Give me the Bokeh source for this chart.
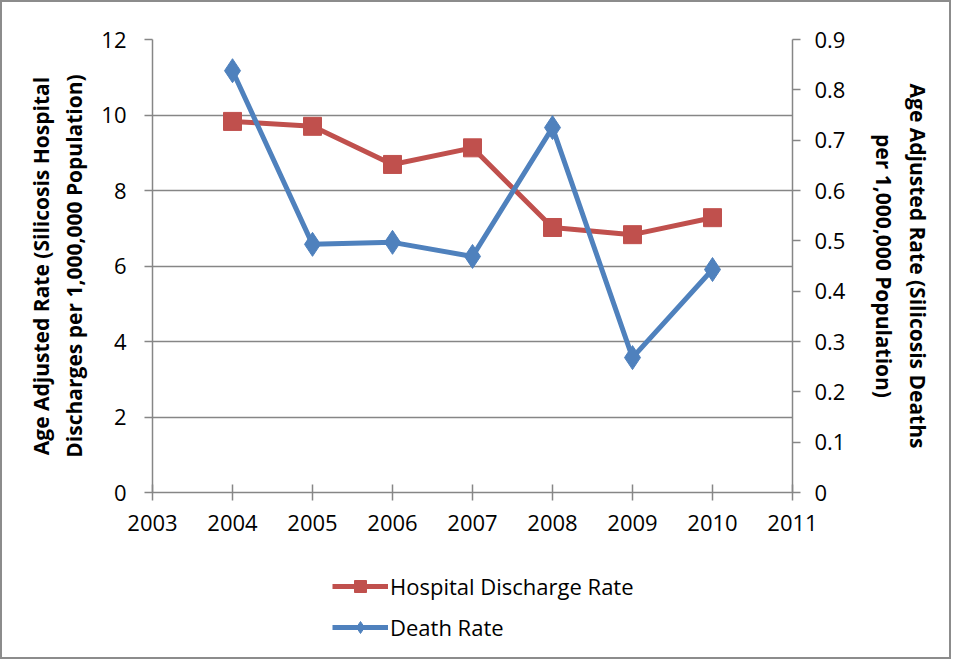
from bokeh.plotting import figure
from bokeh.layouts import column
from bokeh.models import Range1d, LinearAxis, FixedTicker, Legend, LegendItem
from bokeh.embed import file_html
from bokeh.resources import INLINE

years = [2004, 2005, 2006, 2007, 2008, 2009, 2010]
hospital_rate = [9.83, 9.70, 8.69, 9.13, 7.02, 6.83, 7.28]
death_rate = [0.838, 0.493, 0.497, 0.469, 0.725, 0.268, 0.443]
x_ticks = [2003, 2004, 2005, 2006, 2007, 2008, 2009, 2010, 2011]
left_ticks = [0, 2, 4, 6, 8, 10, 12]
right_ticks = [0, 0.1, 0.2, 0.3, 0.4, 0.5, 0.6, 0.7, 0.8, 0.9]
left_title = "Age Adjusted Rate (Silicosis Hospital\nDischarges per 1,000,000 Population)"
right_title = "Age Adjusted Rate (Silicosis Deaths\nper 1,000,000 Population)"
series_names = ["Hospital Discharge Rate", "Death Rate"]

RED = "#C0504D"
BLUE = "#4F81BD"
GRAY = "#868686"
BORDER = "2px solid #8c8c8c"
FONT = "Open Sans"

p = figure(width=951, height=540, output_backend="svg", toolbar_location=None,
           x_range=Range1d(2003, 2011), y_range=Range1d(0, 12),
           min_border_left=150, min_border_top=37, min_border_right=161,
           min_border_bottom=50)
p.extra_y_ranges = {"right": Range1d(0, 0.9)}
p.outline_line_color = None
p.xgrid.grid_line_color = None
p.ygrid.grid_line_color = GRAY
p.ygrid.grid_line_width = 1.5
p.styles = {"border-top": BORDER, "border-left": BORDER, "border-right": BORDER}

def style_axis(ax):
    ax.axis_line_color = GRAY
    ax.axis_line_width = 1.5
    ax.major_tick_line_color = GRAY
    ax.major_tick_line_width = 1.5
    ax.minor_tick_line_color = None
    ax.major_label_text_font = FONT
    ax.major_label_text_font_size = "22px"
    ax.major_label_text_color = "black"
    ax.axis_label_text_font = FONT
    ax.axis_label_text_font_size = "21px"
    ax.axis_label_text_font_style = "bold"
    ax.axis_label_text_color = "black"

xa = p.xaxis[0]
style_axis(xa)
xa.ticker = FixedTicker(ticks=x_ticks)
xa.major_tick_in = 8
xa.major_tick_out = 8
xa.major_label_standoff = 14

ya = p.yaxis[0]
style_axis(ya)
ya.ticker = FixedTicker(ticks=left_ticks)
ya.major_tick_in = 0
ya.major_tick_out = 8
ya.major_label_standoff = 18
ya.axis_label = left_title
ya.axis_label_standoff = 10

ra = LinearAxis(y_range_name="right")
style_axis(ra)
ra.ticker = FixedTicker(ticks=right_ticks)
ra.major_label_overrides = {0: "0"}
ra.major_tick_in = 0
ra.major_tick_out = 8
ra.major_label_standoff = 14
ra.axis_label = right_title
ra.axis_label_standoff = 22
p.add_layout(ra, "right")

p.line(years, hospital_rate, line_color=RED, line_width=5)
p.scatter(years, hospital_rate, marker="square", size=18, fill_color=RED, line_color=RED)
p.line(years, death_rate, line_color=BLUE, line_width=5, y_range_name="right")
p.scatter(years, death_rate, marker="diamond", size=24, fill_color=BLUE, line_color=BLUE,
          y_range_name="right")

# legend panel below the chart (its series lie outside this panel's ranges)
q = figure(width=951, height=119, output_backend="svg", toolbar_location=None,
           x_range=Range1d(0, 1), y_range=Range1d(0, 1),
           min_border_left=0, min_border_right=0, min_border_top=0, min_border_bottom=0)
q.axis.visible = False
q.grid.grid_line_color = None
q.outline_line_color = None
q.styles = {"border-bottom": BORDER, "border-left": BORDER, "border-right": BORDER}
k1 = q.line(years, hospital_rate, line_color=RED, line_width=5)
k2 = q.scatter(years, hospital_rate, marker="square", size=18, fill_color=RED, line_color=RED)
k3 = q.line(years, death_rate, line_color=BLUE, line_width=5)
k4 = q.scatter(years, death_rate, marker="diamond", size=24, fill_color=BLUE, line_color=BLUE)
legend = Legend(items=[LegendItem(label=series_names[0], renderers=[k1, k2]),
                       LegendItem(label=series_names[1], renderers=[k3, k4])],
                orientation="vertical", border_line_color=None,
                background_fill_alpha=0,
                label_text_font=FONT, label_text_font_size="22px",
                label_text_color="black",
                glyph_width=56, glyph_height=30, spacing=11, label_standoff=2,
                padding=0, margin=0, location=(180, 17))
q.add_layout(legend, "center")

layout = column(p, q, spacing=0)
open("out.html", "w").write(file_html(layout, INLINE))
